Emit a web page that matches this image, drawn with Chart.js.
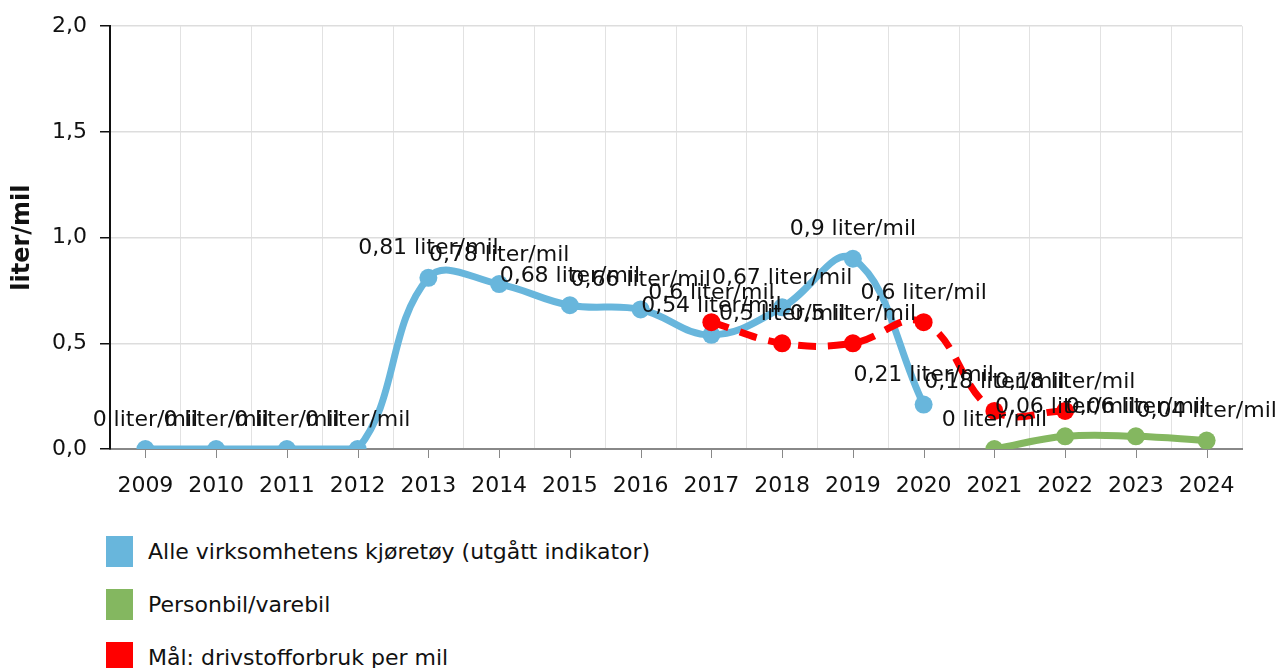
<!DOCTYPE html>
<html>
<head>
<meta charset="utf-8">
<script src="https://cdn.jsdelivr.net/npm/chart.js@4"></script>
<style>
  html, body { margin: 0; padding: 0; background: #fff; }
  body { width: 1276px; height: 668px; overflow: hidden; font-family: "DejaVu Sans", Verdana, sans-serif; }
  #wrap { position: relative; width: 1276px; height: 520px; }
  #legend { margin: 16px 0 0 106px; }
  .item { display: flex; align-items: center; height: 31px; margin-bottom: 22px; font-size: 22px; color: #111; }
  .box { width: 27px; height: 31px; margin-right: 15px; }
</style>
</head>
<body>
<div id="wrap"><canvas id="chart" width="1276" height="520"></canvas></div>
<div id="legend"></div>
<script>
// Years on the x axis
const years = ['2009', '2010', '2011', '2012', '2013', '2014', '2015', '2016',
               '2017', '2018', '2019', '2020', '2021', '2022', '2023', '2024'];

// liter/mil per year
const alleKjoretoy = [0, 0, 0, 0, 0.81, 0.78, 0.68, 0.66, 0.54, 0.67, 0.9, 0.21,
                      null, null, null, null];
const personbil = [null, null, null, null, null, null, null, null, null, null, null, null,
                   0, 0.06, 0.06, 0.04];
const maal = [null, null, null, null, null, null, null, null, 0.6, 0.5, 0.5, 0.6,
              0.18, 0.18, null, null];

const yTicks = [0, 0.5, 1, 1.5, 2];

const FONT = '"DejaVu Sans", Verdana, sans-serif';
const BLUE = 'rgb(104, 182, 220)';
const GREEN = 'rgb(132, 183, 96)';
const RED = 'rgb(255, 0, 0)';

function fmt(v, digits) {
    return v.toFixed(digits).replace('.', ',');
}

// value labels above each point
const valueLabels = {
    id: 'valueLabels',
    afterDatasetsDraw(chart) {
        const ctx = chart.ctx;
        ctx.save();
        ctx.font = '22px ' + FONT;
        ctx.fillStyle = '#111';
        ctx.textAlign = 'center';
        ctx.textBaseline = 'middle';
        chart.data.datasets.forEach((ds, i) => {
            const meta = chart.getDatasetMeta(i);
            meta.data.forEach((pt, j) => {
                const v = ds.data[j];
                if (v === null || v === undefined) return;
                ctx.fillText(String(v).replace('.', ',') + ' liter/mil', pt.x, pt.y - 29);
            });
        });
        ctx.restore();
    }
};

// small tick marks under the x axis at each category
const xTickMarks = {
    id: 'xTickMarks',
    afterDraw(chart) {
        const x = chart.scales.x;
        const ctx = chart.ctx;
        ctx.save();
        ctx.strokeStyle = '#888';
        ctx.lineWidth = 1;
        years.forEach((y, i) => {
            const px = Math.round(x.getPixelForValue(i)) + 0.5;
            ctx.beginPath();
            ctx.moveTo(px, x.top);
            ctx.lineTo(px, x.top + 9);
            ctx.stroke();
        });
        ctx.restore();
    }
};

const datasets = [
    {
        label: 'Alle virksomhetens kjøretøy (utgått indikator)',
        data: alleKjoretoy,
        borderColor: BLUE,
        backgroundColor: BLUE,
        borderWidth: 7,
        pointRadius: 9,
        pointBorderWidth: 0,
        tension: 0.4,
        order: 1
    },
    {
        label: 'Personbil/varebil',
        data: personbil,
        borderColor: GREEN,
        backgroundColor: GREEN,
        borderWidth: 7,
        pointRadius: 9,
        pointBorderWidth: 0,
        tension: 0.4,
        order: 2
    },
    {
        label: 'Mål: drivstofforbruk per mil',
        data: maal,
        borderColor: RED,
        backgroundColor: RED,
        borderWidth: 7,
        borderDash: [18, 12],
        pointRadius: 9,
        pointBorderWidth: 0,
        tension: 0.4,
        order: 0
    }
];

new Chart(document.getElementById('chart'), {
    type: 'line',
    data: { labels: years, datasets: datasets },
    options: {
        responsive: false,
        animation: false,
        layout: { padding: { top: 24, right: 34, left: 0, bottom: 0 } },
        plugins: {
            legend: { display: false },
            tooltip: { enabled: false }
        },
        scales: {
            x: {
                offset: true,
                grid: { offset: true, color: '#e2e2e2', lineWidth: 1, drawTicks: false },
                border: { color: '#888', width: 2 },
                ticks: { color: '#111', font: { family: FONT, size: 22 }, padding: 24, maxRotation: 0 },
                afterFit(scale) { scale.height = 71; }
            },
            y: {
                min: 0,
                max: 2,
                afterBuildTicks(scale) { scale.ticks = yTicks.map(v => ({ value: v })); },
                grid: { color: '#dddddd', lineWidth: 1.5, tickColor: '#111', tickLength: 10 },
                border: { color: '#111', width: 2 },
                ticks: {
                    color: '#111',
                    font: { family: FONT, size: 22 },
                    padding: 13,
                    callback: v => fmt(v, 1)
                },
                title: {
                    display: true,
                    text: 'liter/mil',
                    color: '#111',
                    font: { family: FONT, size: 24, weight: 'bold' },
                    padding: { top: 8, bottom: 0 }
                },
                afterFit(scale) { scale.width = 110; }
            }
        }
    },
    plugins: [valueLabels, xTickMarks]
});

// legend as plain html list
const legendEl = document.getElementById('legend');
datasets.forEach(ds => {
    const row = document.createElement('div');
    row.className = 'item';
    const box = document.createElement('span');
    box.className = 'box';
    box.style.background = ds.borderColor;
    row.appendChild(box);
    row.appendChild(document.createTextNode(ds.label));
    legendEl.appendChild(row);
});
</script>
</body>
</html>
